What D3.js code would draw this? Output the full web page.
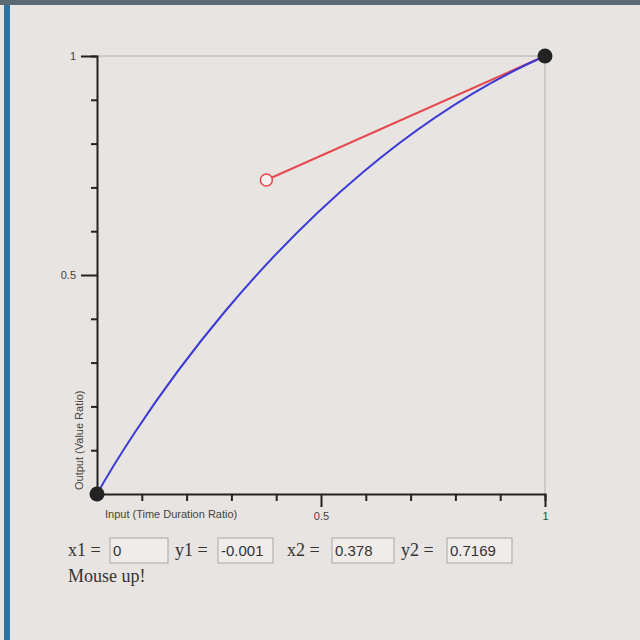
<!DOCTYPE html>
<html>
<head>
<meta charset="utf-8">
<script src="https://cdn.jsdelivr.net/npm/d3@7"></script>
<style>
  body { margin: 0; background: #e7e4e1; }
  svg { display: block; }
</style>
</head>
<body>
<svg id="chart" width="640" height="640"></svg>
<script>
// bezier control points
const startPoint = [0, 0];
const control1 = [0, -0.001];
const control2 = [0.378, 0.7169];
const endPoint = [1, 1];

const fieldNames = ["x1", "y1", "x2", "y2"];
const fieldValues = ["0", "-0.001", "0.378", "0.7169"];
const xTicks = [0, 0.1, 0.2, 0.3, 0.4, 0.5, 0.6, 0.7, 0.8, 0.9, 1];
const yTicks = [0, 0.1, 0.2, 0.3, 0.4, 0.5, 0.6, 0.7, 0.8, 0.9, 1];
const labeledTicks = [0.5, 1];
const status = "Mouse up!";

const svg = d3.select("#chart");

// screen edge decorations
svg.append("rect").attr("x", 0).attr("y", 0).attr("width", 640).attr("height", 640).attr("fill", "#e7e4e1");
svg.append("rect").attr("x", 0).attr("y", 0).attr("width", 640).attr("height", 5).attr("fill", "#5d6a74");
svg.append("rect").attr("x", 4).attr("y", 5).attr("width", 6).attr("height", 635).attr("fill", "#2e74a0");

let x = d3.scaleLinear().domain([0, 1]).range([97, 545]);
let y = d3.scaleLinear().domain([0, 1]).range([494, 56]);

// frame top/right
svg.append("path")
	.attr("d", `M${x(0)},${y(1)}H${x(1)}V${y(0)}`)
	.attr("fill", "none")
	.attr("stroke", "#b3b1ae")
	.attr("stroke-width", 1);

const fmt = d => labeledTicks.includes(d) ? d3.format("")(d) : "";

let xAxis = svg.append("g")
	.attr("transform", `translate(0,${y(0)})`)
	.call(d3.axisBottom(x).tickValues(xTicks).tickFormat(fmt).tickSizeOuter(0).tickSize(7));
xAxis.selectAll(".tick line").attr("y2", d => labeledTicks.includes(d) ? 13 : 7);
xAxis.selectAll(".tick text").attr("y", 18);

let yAxis = svg.append("g")
	.attr("transform", `translate(${x(0)},0)`)
	.call(d3.axisLeft(y).tickValues(yTicks).tickFormat(fmt).tickSizeOuter(0).tickSize(6));
yAxis.selectAll(".tick line").attr("x2", d => labeledTicks.includes(d) ? -16 : -6);
yAxis.selectAll(".tick text").attr("x", -21);

[xAxis, yAxis].forEach(g => {
	g.select(".domain").attr("stroke", "#222").attr("stroke-width", 2);
	g.selectAll(".tick line").attr("stroke", "#222").attr("stroke-width", 2);
	g.selectAll(".tick text").attr("fill", "#444").attr("font-family", "Arial, 'Liberation Sans', sans-serif").attr("font-size", 11);
});

svg.append("text")
	.attr("x", x(0) + 8).attr("y", y(0) + 24)
	.attr("font-family", "Arial, 'Liberation Sans', sans-serif")
	.attr("font-size", 11).attr("fill", "#444")
	.text("Input (Time Duration Ratio)");

svg.append("text")
	.attr("transform", `translate(${x(0) - 14},${y(0) - 4}) rotate(-90)`)
	.attr("font-family", "Arial, 'Liberation Sans', sans-serif")
	.attr("font-size", 11).attr("fill", "#444")
	.text("Output (Value Ratio)");

// handle line
svg.append("line")
	.attr("x1", x(control2[0])).attr("y1", y(control2[1]))
	.attr("x2", x(endPoint[0])).attr("y2", y(endPoint[1]))
	.attr("stroke", "#e5484d").attr("stroke-width", 2);

// bezier curve
let p = d3.path();
p.moveTo(x(startPoint[0]), y(startPoint[1]));
p.bezierCurveTo(x(control1[0]), y(control1[1]), x(control2[0]), y(control2[1]), x(endPoint[0]), y(endPoint[1]));
svg.append("path")
	.attr("d", p.toString())
	.attr("fill", "none")
	.attr("stroke", "#3b3ad6")
	.attr("stroke-width", 2);

svg.selectAll("circle.end")
	.data([startPoint, endPoint])
	.enter()
	.append("circle")
	.attr("class", "end")
	.attr("cx", d => x(d[0]))
	.attr("cy", d => y(d[1]))
	.attr("r", 7.5)
	.attr("fill", "#232325");

svg.append("circle")
	.attr("cx", x(control2[0])).attr("cy", y(control2[1]))
	.attr("r", 6)
	.attr("fill", "#f4f1ee")
	.attr("stroke", "#e5484d").attr("stroke-width", 1.5);

// form row
const boxX = [110, 218, 332, 447];
const boxW = [58, 55, 62, 65];
const labelX = [68, 175, 287, 401];
let form = svg.selectAll("g.field")
	.data(fieldNames)
	.enter()
	.append("g")
	.attr("class", "field");

form.append("text")
	.attr("x", (d, i) => labelX[i]).attr("y", 556)
	.attr("font-family", "'Times New Roman', 'Liberation Serif', serif")
	.attr("font-size", 18).attr("fill", "#333")
	.text(d => d + " =");

form.append("rect")
	.attr("x", (d, i) => boxX[i]).attr("y", 538)
	.attr("width", (d, i) => boxW[i]).attr("height", 25)
	.attr("fill", "#efece9").attr("stroke", "#a9a7a4").attr("stroke-width", 1);

form.append("text")
	.attr("x", (d, i) => boxX[i] + 3).attr("y", 556)
	.attr("font-family", "Arial, 'Liberation Sans', sans-serif")
	.attr("font-size", 15).attr("fill", "#333")
	.text((d, i) => fieldValues[i]);

svg.append("text")
	.attr("x", 68).attr("y", 582)
	.attr("font-family", "'Times New Roman', 'Liberation Serif', serif")
	.attr("font-size", 18).attr("fill", "#333")
	.text(status);
</script>
</body>
</html>
